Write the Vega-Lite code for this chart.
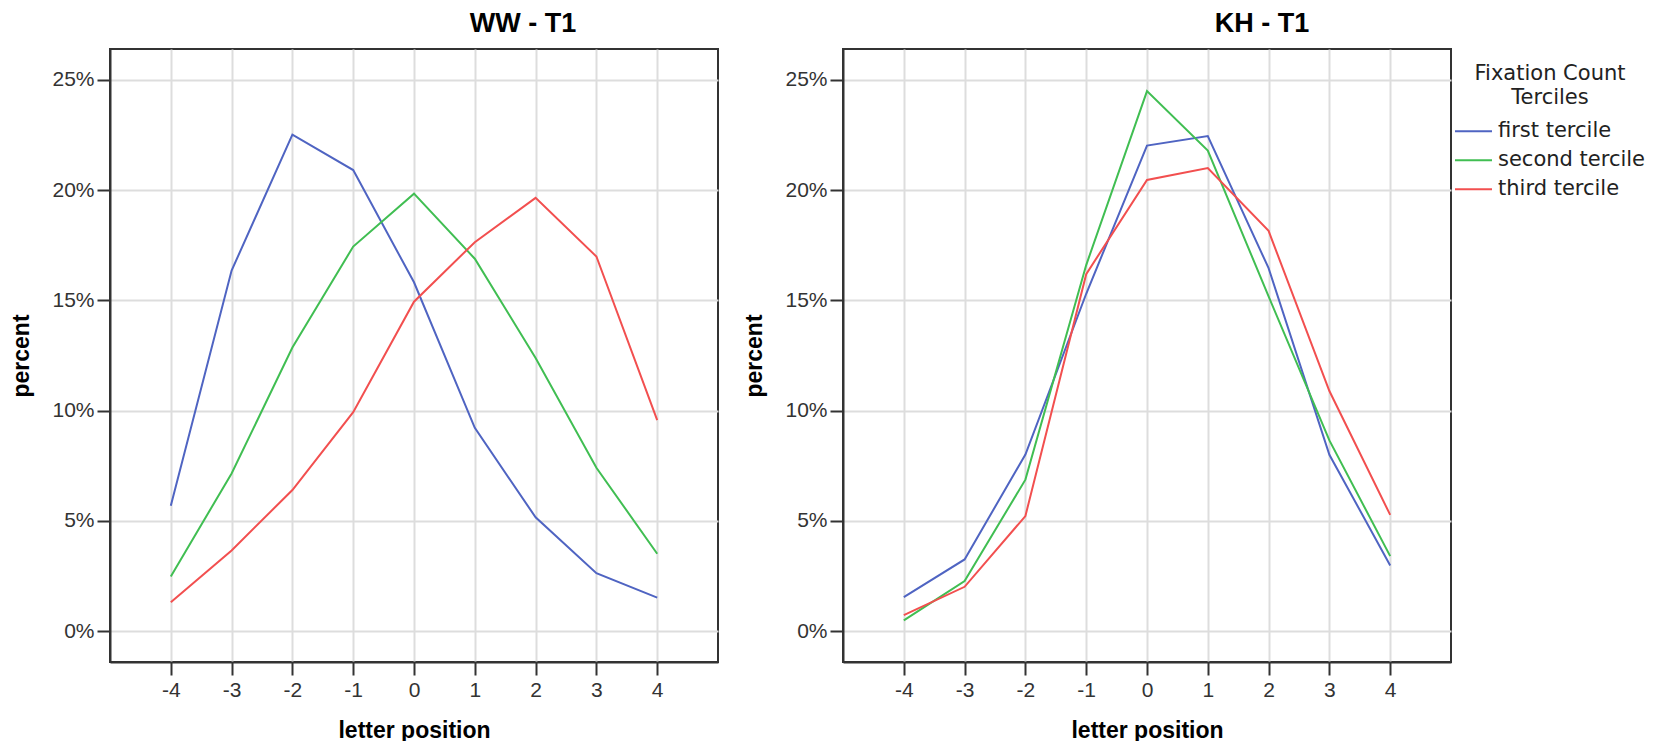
{
  "$schema": "https://vega.github.io/schema/vega-lite/v6.json",
  "padding": {"left": 9, "top": 9, "right": 0, "bottom": 0},
  "spacing": 23,
  "datasets": {
    "ww": [
      {"pos": -4, "tercile": "first tercile", "pct": 5.69},
      {"pos": -3, "tercile": "first tercile", "pct": 16.35},
      {"pos": -2, "tercile": "first tercile", "pct": 22.52},
      {"pos": -1, "tercile": "first tercile", "pct": 20.91},
      {"pos": 0, "tercile": "first tercile", "pct": 15.82},
      {"pos": 1, "tercile": "first tercile", "pct": 9.22},
      {"pos": 2, "tercile": "first tercile", "pct": 5.16},
      {"pos": 3, "tercile": "first tercile", "pct": 2.63},
      {"pos": 4, "tercile": "first tercile", "pct": 1.52},
      {"pos": -4, "tercile": "second tercile", "pct": 2.48},
      {"pos": -3, "tercile": "second tercile", "pct": 7.15},
      {"pos": -2, "tercile": "second tercile", "pct": 12.86},
      {"pos": -1, "tercile": "second tercile", "pct": 17.44},
      {"pos": 0, "tercile": "second tercile", "pct": 19.84},
      {"pos": 1, "tercile": "second tercile", "pct": 16.89},
      {"pos": 2, "tercile": "second tercile", "pct": 12.39},
      {"pos": 3, "tercile": "second tercile", "pct": 7.41},
      {"pos": 4, "tercile": "second tercile", "pct": 3.51},
      {"pos": -4, "tercile": "third tercile", "pct": 1.31},
      {"pos": -3, "tercile": "third tercile", "pct": 3.66},
      {"pos": -2, "tercile": "third tercile", "pct": 6.40},
      {"pos": -1, "tercile": "third tercile", "pct": 9.93},
      {"pos": 0, "tercile": "third tercile", "pct": 14.94},
      {"pos": 1, "tercile": "third tercile", "pct": 17.64},
      {"pos": 2, "tercile": "third tercile", "pct": 19.65},
      {"pos": 3, "tercile": "third tercile", "pct": 16.99},
      {"pos": 4, "tercile": "third tercile", "pct": 9.57}
    ],
    "kh": [
      {"pos": -4, "tercile": "first tercile", "pct": 1.54},
      {"pos": -3, "tercile": "first tercile", "pct": 3.25},
      {"pos": -2, "tercile": "first tercile", "pct": 8.01},
      {"pos": -1, "tercile": "first tercile", "pct": 15.3},
      {"pos": 0, "tercile": "first tercile", "pct": 22.02},
      {"pos": 1, "tercile": "first tercile", "pct": 22.45},
      {"pos": 2, "tercile": "first tercile", "pct": 16.46},
      {"pos": 3, "tercile": "first tercile", "pct": 8.0},
      {"pos": 4, "tercile": "first tercile", "pct": 2.98},
      {"pos": -4, "tercile": "second tercile", "pct": 0.49},
      {"pos": -3, "tercile": "second tercile", "pct": 2.27},
      {"pos": -2, "tercile": "second tercile", "pct": 6.87},
      {"pos": -1, "tercile": "second tercile", "pct": 16.6},
      {"pos": 0, "tercile": "second tercile", "pct": 24.49},
      {"pos": 1, "tercile": "second tercile", "pct": 21.79},
      {"pos": 2, "tercile": "second tercile", "pct": 15.18},
      {"pos": 3, "tercile": "second tercile", "pct": 8.65},
      {"pos": 4, "tercile": "second tercile", "pct": 3.40},
      {"pos": -4, "tercile": "third tercile", "pct": 0.73},
      {"pos": -3, "tercile": "third tercile", "pct": 2.01},
      {"pos": -2, "tercile": "third tercile", "pct": 5.22},
      {"pos": -1, "tercile": "third tercile", "pct": 16.19},
      {"pos": 0, "tercile": "third tercile", "pct": 20.46},
      {"pos": 1, "tercile": "third tercile", "pct": 21.0},
      {"pos": 2, "tercile": "third tercile", "pct": 18.15},
      {"pos": 3, "tercile": "third tercile", "pct": 10.89},
      {"pos": 4, "tercile": "third tercile", "pct": 5.27}
    ]
  },
  "hconcat": [
    {
      "width": 608,
      "height": 613,
      "title": {"text": "WW - T1", "dx": 109},
      "data": {"name": "ww"},
      "mark": {"type": "line", "strokeWidth": 2},
      "encoding": {
        "x": {"field": "pos", "type": "quantitative", "scale": {"domain": [-5, 5], "nice": false, "zero": false},
              "axis": {"values": [-4, -3, -2, -1, 0, 1, 2, 3, 4], "labelExpr": "'' + datum.value", "title": "letter position"}},
        "y": {"field": "pct", "type": "quantitative", "scale": {"domain": [-1.4, 26.4], "nice": false, "zero": false},
              "axis": {"values": [0, 5, 10, 15, 20, 25], "labelExpr": "datum.value + '%'", "title": "percent"}},
        "color": {"field": "tercile", "type": "nominal",
                  "scale": {"domain": ["first tercile", "second tercile", "third tercile"], "range": ["#4f64c2", "#40be52", "#f24f4f"]},
                  "legend": null}
      }
    },
    {
      "width": 608,
      "height": 613,
      "title": {"text": "KH - T1", "dx": 115},
      "data": {"name": "kh"},
      "mark": {"type": "line", "strokeWidth": 2},
      "encoding": {
        "x": {"field": "pos", "type": "quantitative", "scale": {"domain": [-5, 5], "nice": false, "zero": false},
              "axis": {"values": [-4, -3, -2, -1, 0, 1, 2, 3, 4], "labelExpr": "'' + datum.value", "title": "letter position"}},
        "y": {"field": "pct", "type": "quantitative", "scale": {"domain": [-1.4, 26.4], "nice": false, "zero": false},
              "axis": {"values": [0, 5, 10, 15, 20, 25], "labelExpr": "datum.value + '%'", "title": "percent"}},
        "color": {"field": "tercile", "type": "nominal",
                  "scale": {"domain": ["first tercile", "second tercile", "third tercile"], "range": ["#4f64c2", "#40be52", "#f24f4f"]},
                  "legend": {"title": ["Fixation Count", "Terciles"], "orient": "right", "offset": -11, "padding": 14}}
      }
    }
  ],
  "resolve": {"scale": {"color": "independent"}, "legend": {"color": "independent"}},
  "config": {
    "font": "Liberation Sans",
    "view": {"stroke": "#333333", "strokeWidth": 2},
    "axis": {
      "domain": true, "domainColor": "#333333", "domainWidth": 2,
      "grid": true, "gridColor": "#dddddd", "gridWidth": 2,
      "tickColor": "#333333", "tickWidth": 2, "tickSize": 13,
      "labelFont": "Liberation Sans", "labelFontSize": 21, "labelColor": "#333333",
      "titleFont": "Liberation Sans", "titleFontSize": 23, "titleFontWeight": "bold", "titleColor": "#000000"
    },
    "axisX": {"labelPadding": 4, "titlePadding": 19, "labelFlush": false, "labelOverlap": false},
    "axisY": {"labelPadding": 3, "titlePadding": 18},
    "title": {"fontSize": 27, "fontWeight": "bold", "font": "Liberation Sans", "color": "#000000", "offset": 11},
    "legend": {
      "symbolType": "stroke", "symbolSize": 1369, "symbolStrokeWidth": 2, "clipHeight": 28.5, "rowPadding": 0,
      "labelOffset": 5, "labelFont": "DejaVu Sans", "labelFontSize": 21, "labelColor": "#222222", "labelLimit": 300,
      "titleFont": "DejaVu Sans", "titleFontSize": 21, "titleFontWeight": "normal", "titleColor": "#222222",
      "titleAlign": "center", "titleAnchor": "middle", "titleLineHeight": 23.5, "titlePadding": 9.5, "titleLimit": 400
    }
  }
}
